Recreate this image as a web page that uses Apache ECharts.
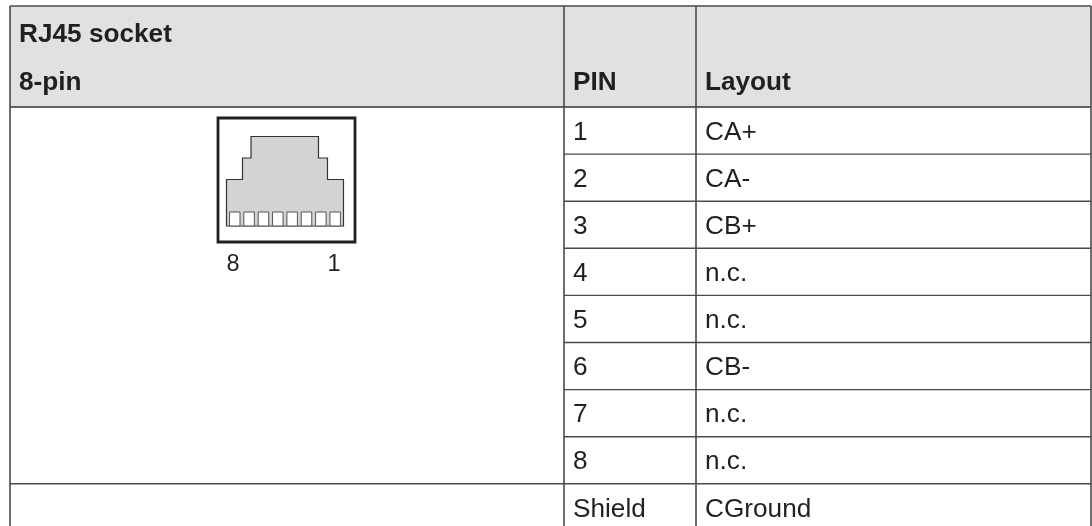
<!DOCTYPE html>
<html>
<head>
<meta charset="utf-8">
<style>html,body{margin:0;padding:0;background:#fff}#main{width:1092px;height:526px}</style>
<script src="https://cdn.jsdelivr.net/npm/echarts@6/dist/echarts.min.js"></script>
</head>
<body>
<div id="main"></div>
<script>
// table content
var headLeft = ['RJ45 socket', '8-pin'];
var headPin = 'PIN';
var headLayout = 'Layout';
var pins = ['1', '2', '3', '4', '5', '6', '7', '8', 'Shield'];
var layouts = ['CA+', 'CA-', 'CB+', 'n.c.', 'n.c.', 'CB-', 'n.c.', 'n.c.', 'CGround'];
var socketLabels = ['8', '1'];

// table lines, in the pixel scale of the hidden axes
var colX = [10, 564, 696, 1091];
var topY = 6, headY = 107, rowH = 47.1, bottomY = 526;
var FONT = '"Liberation Sans", Arial, sans-serif';
var LINE = '#4a4a4a', TEXT = '#231f20';
var FS = 26.2;

// socket outline
var socketBox = [[218, 118], [355, 118], [355, 242], [218, 242]];
var socketBody = [[226.5, 226], [226.5, 179.5], [242.5, 179.5], [242.5, 158], [251, 158], [251, 136.5],
  [318.5, 136.5], [318.5, 158], [327.5, 158], [327.5, 179.5], [343.5, 179.5], [343.5, 226]];

var chart = echarts.init(document.getElementById('main'), null, {renderer: 'canvas'});

function renderTable(params, api) {
  var c = function (x, y) { return api.coord([x, y]); };
  var kids = [];
  function rect(x0, y0, x1, y1, style) {
    var a = c(x0, y0), b = c(x1, y1);
    kids.push({type: 'rect', shape: {x: a[0], y: a[1], width: b[0] - a[0], height: b[1] - a[1]}, style: style});
  }
  function line(x0, y0, x1, y1, w, col) {
    var a = c(x0, y0), b = c(x1, y1);
    kids.push({type: 'line', shape: {x1: a[0], y1: a[1], x2: b[0], y2: b[1]}, style: {stroke: col || LINE, lineWidth: w}});
  }
  function text(s, x, y, bold, align, size) {
    var a = c(x, y);
    kids.push({type: 'text', style: {text: s, x: a[0], y: a[1], fill: TEXT, textAlign: align || 'left', textVerticalAlign: 'middle',
      font: (bold ? 'bold ' : '') + (size || FS) + 'px ' + FONT}});
  }
  function poly(pts, style) {
    kids.push({type: 'polygon', shape: {points: pts.map(function (p) { return c(p[0], p[1]); })}, style: style});
  }

  // header band
  rect(colX[0], topY, colX[3], headY, {fill: '#e0e1e3'});

  // grid lines
  line(colX[0], topY, colX[3], topY, 1.6);
  line(colX[0], headY, colX[3], headY, 1.6, '#333');
  pins.forEach(function (p, i) {
    var y = headY + rowH * (i + 1);
    var from = (i === 7) ? colX[0] : colX[1];
    if (i < 8) line(from, y, colX[3], y, 1.4);
  });
  colX.forEach(function (x) { line(x, topY, x, bottomY, 1.6); });

  // header text
  text(headLeft[0], 19, 34.5, true);
  text(headLeft[1], 19, 82.5, true);
  text(headPin, 573, 82.5, true);
  text(headLayout, 705, 82.5, true);

  // rows
  pins.forEach(function (p, i) {
    var y = headY + rowH * (i + 0.5) + 2;
    text(p, 573, y, false);
    text(layouts[i], 705, y, false);
  });

  // socket drawing
  poly(socketBox, {fill: '#fff', stroke: '#231f20', lineWidth: 2.8});
  poly(socketBody, {fill: '#d1d3d4', stroke: '#333', lineWidth: 1.2});
  for (var k = 0; k < 8; k++) {
    rect(229.5 + k * 14.35, 212, 240 + k * 14.35, 226, {fill: '#fff', stroke: '#555', lineWidth: 1});
  }
  text(socketLabels[0], 233, 265, false, 'center', 23.5);
  text(socketLabels[1], 334, 265, false, 'center', 23.5);

  return {type: 'group', children: kids};
}

chart.setOption({
  animation: false,
  backgroundColor: '#fff',
  grid: {left: 0, right: 0, top: 0, bottom: 0},
  xAxis: {type: 'value', min: 0, max: 1092, show: false},
  yAxis: {type: 'value', min: 0, max: 526, inverse: true, show: false},
  series: [{
    type: 'custom',
    coordinateSystem: 'cartesian2d',
    silent: true,
    clip: false,
    data: [[0, 0]],
    renderItem: renderTable
  }]
});
</script>
</body>
</html>
